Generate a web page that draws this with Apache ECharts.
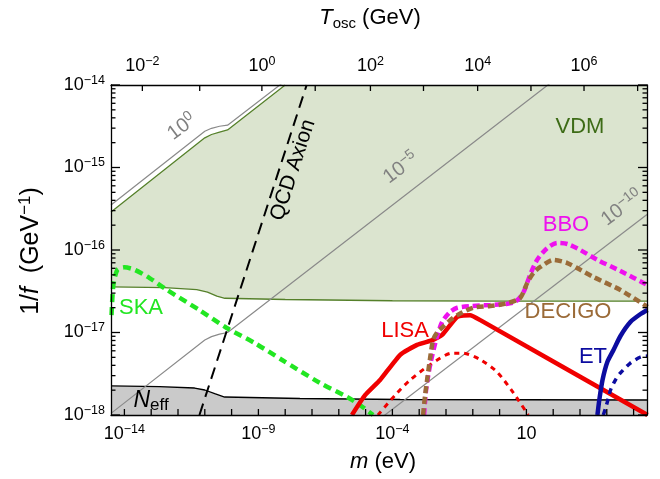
<!DOCTYPE html>
<html><head><meta charset="utf-8">
<script src="https://cdn.jsdelivr.net/npm/echarts@6/dist/echarts.min.js"></script>
<style>html,body{margin:0;padding:0;background:#fff}#c{width:660px;height:479px}</style>
</head><body><div id="c"></div>
<script>
// All values are log10 exponents.
const xMin = -14.5, xMax = 5.5;      // log10 m (eV)
const yMin = -18, yMax = -14;        // log10 1/f (GeV^-1)
const xMajorTicks = [-14,-13,-12,-11,-10,-9,-8,-7,-6,-5,-4,-3,-2,-1,0,1,2,3,4,5];
const xLabelTicks = [-14,-9,-4,1];
const yMajorTicks = [-18,-17,-16,-15,-14];
const toscTickExp  = [-2,-1,0,1,2,3,4,5,6,7];
const toscTickLogM = [-13.33,-11.19,-8.87,-6.88,-4.82,-2.84,-0.82,1.17,3.15,5.15];
const toscLabelExp = [-2,0,2,4,6];

const vdmLowerLogM = [-14.5,-12.5,-11.3,-10.9,-10.55,-10.25,-8,-4,0,5.5];
const vdmLowerLogF = [-16.448,-16.455,-16.48,-16.51,-16.56,-16.585,-16.60,-16.615,-16.62,-16.62];
const vdmUpperLogM = [-14.5,-11.0,-10.75,-10.45,-10.15,-8.0];
const vdmUpperLogF = [-15.54,-14.64,-14.60,-14.57,-14.545,-14.0];

const nEffLogM = [-14.5,-12.69,-11.38,-11.0,-10.63,-10.26,-7.45,-3.71,5.5];
const nEffLogF = [-17.648,-17.655,-17.673,-17.697,-17.74,-17.782,-17.80,-17.812,-17.818];

const contour0LogM = [-14.5,-11.0,-10.75,-10.45,-10.15,-8.2,-7.5];
const contour0LogF = [-15.455,-14.56,-14.525,-14.50,-14.487,-14.0,-13.82];
const contour5LogM = [-14.5,-11.0,-10.75,-10.45,-10.15,1.8,2.2];
const contour5LogF = [-17.98,-17.09,-17.05,-17.02,-17.0,-14.0,-13.9];
const contour10LogM = [-4.4,5.5];
const contour10LogF = [-18.03,-15.57];

const qcdLogM = [-11.2,-7.2];
const qcdLogF = [-18,-14];

const skaLogM = [-14.48,-14.41,-14.26,-14.0,-13.62,-13.06,-12.43,-11.19,-10.18,-9.14,-8.13,-6.71,-5.70,-5.21,-4.72];
const skaLogF = [-16.79,-16.42,-16.24,-16.21,-16.24,-16.34,-16.48,-16.73,-16.945,-17.127,-17.33,-17.61,-17.78,-17.88,-18.0];

const lisaLogM = [-5.51,-5.02,-4.46,-3.71,-3.08,-2.48,-2.145,-1.58,-1.10,-0.72,5.52];
const lisaLogF = [-18.0,-17.76,-17.576,-17.27,-17.15,-17.09,-17.03,-16.81,-16.79,-16.85,-18.0];
const lisaDotLogM = [-4.54,-3.90,-3.34,-2.59,-1.77,-1.36,-0.72,-0.09,0.51,1.07];
const lisaDotLogF = [-18.0,-17.76,-17.576,-17.39,-17.25,-17.25,-17.33,-17.48,-17.73,-18.0];

const bboLogM = [-2.818,-2.743,-2.593,-2.369,-2.145,-1.846,-1.58,-1.10,-0.35,0.21,0.58,0.88,1.14,1.40,1.78,2.15,2.53,3.01,3.65,4.51,5.52];
const bboLogF = [-18.0,-17.697,-17.394,-17.09,-16.873,-16.75,-16.70,-16.68,-16.667,-16.655,-16.63,-16.52,-16.30,-16.12,-15.976,-15.915,-15.927,-16.0,-16.12,-16.255,-16.424];

const decigoLogM = [-2.855,-2.78,-2.705,-2.593,-2.48,-2.33,-2.107,-1.846,-1.58,-0.985,-0.35,0.29,0.77,1.03,1.26,1.52,2.00,2.53,3.01,3.50,4.51,5.52];
const decigoLogF = [-18.0,-17.76,-17.576,-17.31,-17.09,-17.0,-16.93,-16.85,-16.79,-16.70,-16.68,-16.645,-16.58,-16.40,-16.28,-16.206,-16.12,-16.158,-16.24,-16.327,-16.485,-16.69];

const etLogM = [3.65,3.72,3.84,4.02,4.25,4.51,4.88,5.26,5.52];
const etLogF = [-18.0,-17.818,-17.576,-17.358,-17.212,-17.042,-16.873,-16.776,-16.727];
const etDashLogM = [3.87,3.99,4.14,4.32,4.51,4.88,5.26,5.52];
const etDashLogF = [-18.0,-17.879,-17.697,-17.576,-17.49,-17.37,-17.297,-17.285];

const FONT = '"Liberation Sans", Arial, Helvetica, sans-serif';
const W = 660, H = 479, GL = 111, GR = 13, GT = 85, GB = 64;
const pxX = (W - GL - GR) / (xMax - xMin);
const pxY = (H - GT - GB) / (yMax - yMin);
const pts = (xs, ys) => xs.map((x, i) => [x, ys[i]]);
const yMinorTicks = (() => { const r = []; for (let d = yMin; d < yMax; d++) for (let k = 2; k <= 9; k++) r.push(d + Math.log10(k)); return r; })();
const pow10 = e => e === 1 ? '{b|10}' : '{b|10}{s|' + (e < 0 ? '\u2212' : '') + Math.abs(e) + '}';
const tickRich = {
  b: {fontSize: 18, lineHeight: 22, fontFamily: FONT, color: '#000'},
  s: {fontSize: 12.5, lineHeight: 11, verticalAlign: 'top', fontFamily: FONT, color: '#000'}
};
const frameLine = {show: true, onZero: false, lineStyle: {color: '#000', width: 1.3}};

const chart = echarts.init(document.getElementById('c'), null, {renderer: 'canvas'});

function line(data, color, width, dash, extra) {
  return Object.assign({
    type: 'line', data: data, symbol: 'none', animation: false, silent: true,
    lineStyle: {color: color, width: width, type: dash || 'solid', cap: 'butt'}
  }, extra || {});
}

// one short two-point line series per frame tick
const tickSeries = [];
const addTick = (a, b) => tickSeries.push(line([a, b], '#000000', 1.3, null, {z: 6, clip: false}));
xMajorTicks.forEach(v => addTick([v, yMin], [v, yMin + 6 / pxY]));
toscTickLogM.forEach(v => addTick([v, yMax], [v, yMax - 6 / pxY]));
yMajorTicks.forEach(v => { addTick([xMin, v], [xMin + 9 / pxX, v]); addTick([xMax, v], [xMax - 9 / pxX, v]); });
yMinorTicks.forEach(v => { addTick([xMin, v], [xMin + 4.5 / pxX, v]); addTick([xMax, v], [xMax - 4.5 / pxX, v]); });

const option = {
  animation: false,
  backgroundColor: '#fff',
  grid: {left: GL, right: GR, top: GT, bottom: GB},
  xAxis: [
    {type: 'value', position: 'bottom', min: xMin, max: xMax, z: 10,
     axisLine: frameLine, splitLine: {show: false}, axisTick: {show: false},
     axisLabel: {show: true, margin: 8, customValues: xLabelTicks, formatter: v => pow10(Math.round(v)), rich: tickRich}},
    {type: 'value', position: 'top', min: xMin, max: xMax, z: 10,
     axisLine: frameLine, splitLine: {show: false}, axisTick: {show: false},
     axisLabel: {show: true, margin: 8,
       customValues: toscLabelExp.map(e => toscTickLogM[toscTickExp.indexOf(e)]),
       formatter: v => { let best = 0; toscTickLogM.forEach((m, i) => { if (Math.abs(m - v) < Math.abs(toscTickLogM[best] - v)) best = i; }); return pow10(toscTickExp[best] === 1 ? 'x' : toscTickExp[best]); },
       rich: tickRich}}
  ],
  yAxis: [
    {type: 'value', position: 'left', min: yMin, max: yMax, z: 10,
     axisLine: frameLine, splitLine: {show: false}, axisTick: {show: false},
     axisLabel: {show: true, margin: 6, customValues: yMajorTicks, formatter: v => pow10(Math.round(v)), rich: tickRich}},
    {type: 'value', position: 'right', min: yMin, max: yMax, z: 10,
     axisLine: frameLine, splitLine: {show: false}, axisLabel: {show: false}, axisTick: {show: false}}
  ],
  series: [
    line(pts(vdmLowerLogM, vdmLowerLogF), '#55802a', 1.3, null, {areaStyle: {color: '#dbe4cf', opacity: 1, origin: 'end'}}),
    line(pts(vdmUpperLogM, vdmUpperLogF), '#55802a', 1.3, null, {areaStyle: {color: '#ffffff', opacity: 1, origin: 'end'}}),
    line(pts(nEffLogM, nEffLogF), '#000000', 1.3, null, {areaStyle: {color: '#cacaca', opacity: 1, origin: 'start'}}),
    line(pts(contour0LogM, contour0LogF), '#8a8a8a', 1.2),
    line(pts(contour5LogM, contour5LogF), '#8a8a8a', 1.2),
    line(pts(contour10LogM, contour10LogF), '#8a8a8a', 1.2),
    line(pts(qcdLogM, qcdLogF), '#000000', 2, [12, 7]),
    line(pts(skaLogM, skaLogF), '#22e622', 4.5, [8, 5], {smooth: 0.25}),
    line(pts(lisaDotLogM, lisaDotLogF), '#f00000', 3, [5, 5], {smooth: 0.25}),
    line(pts(lisaLogM, lisaLogF), '#f00000', 4.5, null, {smooth: 0.15}),
    line(pts(bboLogM, bboLogF), '#ee11ee', 4.5, [7, 4], {smooth: 0.25}),
    line(pts(decigoLogM, decigoLogF), '#9b6b38', 4.5, [7, 4], {smooth: 0.25}),
    line(pts(etDashLogM, etDashLogF), '#0c0ca0', 3.5, [6, 5], {smooth: 0.25}),
    line(pts(etLogM, etLogF), '#0c0ca0', 4.5, null, {smooth: 0.25})
  ].concat(tickSeries)
};

function txt(x, y, text, color, size, rot, extra) {
  return Object.assign({type: 'text', x: x, y: y, rotation: (rot || 0) * Math.PI / 180, z: 100, silent: true,
    style: {text: text, fill: color, font: size + 'px ' + FONT, align: 'center', verticalAlign: 'middle'}}, extra || {});
}
const gray = '#808080';
const supRich = (sz, col) => ({
  b: {fontSize: sz, lineHeight: sz + 4, fontFamily: FONT, fill: col, color: col},
  s: {fontSize: Math.round(sz * 0.7), lineHeight: Math.round(sz * 0.6), verticalAlign: 'top', fontFamily: FONT, fill: col, color: col}
});
option.graphic = [
  txt(580, 127, 'VDM', '#3d6b16', 22),
  txt(566, 225, 'BBO', '#ee11ee', 22),
  txt(568, 312, 'DECIGO', '#9b6b38', 22),
  txt(405, 331, 'LISA', '#f00000', 22),
  txt(593, 357, 'ET', '#0c0ca0', 22),
  txt(141, 308, 'SKA', '#22e622', 22),
  txt(293, 170, 'QCD Axion', '#000', 21, 72),
  {type: 'text', x: 182, y: 127, rotation: 37 * Math.PI / 180, z: 100, silent: true,
   style: {text: '{b|10}{s|0}', rich: supRich(20, gray), align: 'center', verticalAlign: 'middle'}},
  {type: 'text', x: 401, y: 168, rotation: 37 * Math.PI / 180, z: 100, silent: true,
   style: {text: '{b|10}{s|\u22125}', rich: supRich(20, gray), align: 'center', verticalAlign: 'middle'}},
  {type: 'text', x: 622, y: 208, rotation: 37 * Math.PI / 180, z: 100, silent: true,
   style: {text: '{b|10}{s|\u221210}', rich: supRich(20, gray), align: 'center', verticalAlign: 'middle'}},
  {type: 'text', x: 151, y: 401, z: 100, silent: true,
   style: {text: '{n|N}{e|eff}', align: 'center', verticalAlign: 'middle',
     rich: {n: {fontSize: 23, lineHeight: 26, fontStyle: 'italic', fontFamily: FONT, fill: '#000'},
            e: {fontSize: 17, lineHeight: 16, verticalAlign: 'bottom', fontFamily: FONT, fill: '#000'}}}},
  {type: 'text', x: 383, y: 462, z: 100, silent: true,
   style: {text: '{i|m} (eV)', align: 'center', verticalAlign: 'middle',
     rich: {i: {fontSize: 22, fontStyle: 'italic', fontFamily: FONT, fill: '#000'}}, font: '22px ' + FONT, fill: '#000'}},
  {type: 'text', x: 370, y: 18, z: 100, silent: true,
   style: {text: '{i|T}{o|osc}{r| (GeV)}', align: 'center', verticalAlign: 'middle',
     rich: {i: {fontSize: 22, lineHeight: 26, fontStyle: 'italic', fontFamily: FONT, fill: '#000'},
            o: {fontSize: 15, lineHeight: 15, verticalAlign: 'bottom', fontFamily: FONT, fill: '#000'},
            r: {fontSize: 22, lineHeight: 26, fontFamily: FONT, fill: '#000'}}}},
  {type: 'text', x: 31, y: 251, rotation: Math.PI / 2, z: 100, silent: true,
   style: {text: '{r|1/}{i|f}{r|  (GeV}{s|\u22121}{r|)}', align: 'center', verticalAlign: 'middle',
     rich: {r: {fontSize: 25, lineHeight: 28, fontFamily: FONT, fill: '#000'},
            i: {fontSize: 25, lineHeight: 28, fontStyle: 'italic', fontFamily: FONT, fill: '#000'},
            s: {fontSize: 17, lineHeight: 14, verticalAlign: 'top', fontFamily: FONT, fill: '#000'}}}}
];
chart.setOption(option);
</script></body></html>
